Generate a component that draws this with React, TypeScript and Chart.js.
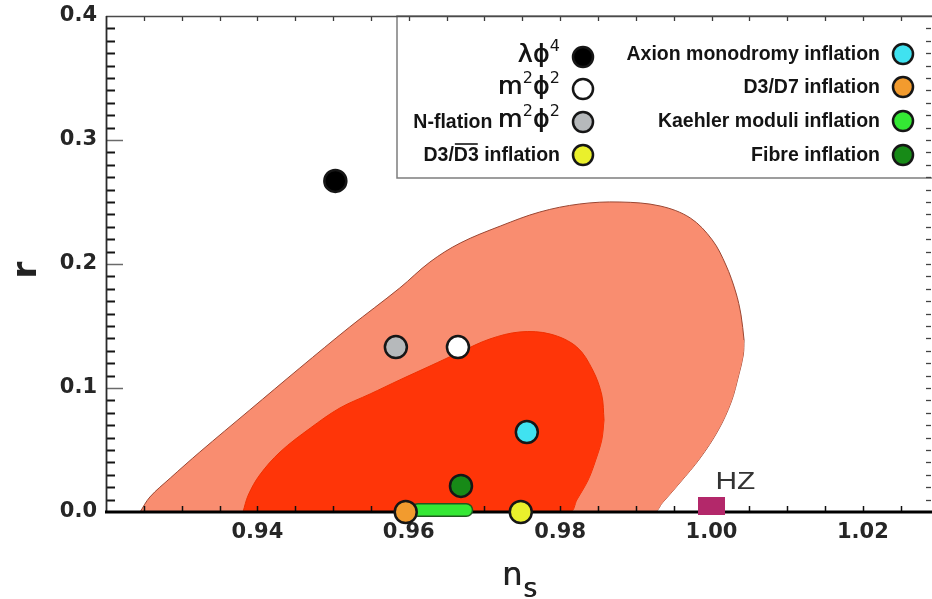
import React, { useEffect, useRef } from 'react';
import { Chart, registerables } from 'chart.js';
Chart.register(...registerables);

// ---- axes ----
const X_MIN = 0.92;
const X_MAX = 1.029;
const Y_MIN = 0;
const Y_MAX = 0.4;
const xTickValues = [0.94, 0.96, 0.98, 1.0, 1.02];
const yTickValues = [0.0, 0.1, 0.2, 0.3, 0.4];
const xTitle = 'n';
const xTitleSub = 's';
const yTitle = 'r';

// ---- 95% CL region (upper / lower branches) ----
const outerUpperNs = [0.9245, 0.9258, 0.9285, 0.9324, 0.939, 0.9456, 0.9522, 0.9588, 0.9628, 0.9668, 0.9721, 0.9773, 0.9826, 0.9879, 0.9932, 0.9972, 1.0001, 1.0019, 1.0032, 1.0039, 1.0043];
const outerUpperR = [0, 0.0121, 0.0274, 0.0484, 0.0823, 0.1161, 0.1492, 0.1806, 0.2016, 0.2169, 0.2306, 0.2419, 0.2484, 0.25, 0.2468, 0.2371, 0.2194, 0.1992, 0.1774, 0.1589, 0.1387];
const outerLowerNs = [0.9245, 0.96, 0.9924, 0.9935, 0.9958, 0.9985, 1.0009, 1.0026, 1.0036, 1.0042, 1.0043];
const outerLowerR = [0, 0, 0, 0.0073, 0.0234, 0.0435, 0.0661, 0.0887, 0.1105, 0.1266, 0.1387];

// ---- 68% CL region ----
const innerUpperNs = [0.9381, 0.9388, 0.9403, 0.943, 0.947, 0.9509, 0.9549, 0.9588, 0.9628, 0.9668, 0.9707, 0.9747, 0.9787, 0.9822, 0.9843, 0.9855, 0.9858];
const innerUpperR = [0, 0.0137, 0.0298, 0.0484, 0.0677, 0.0839, 0.0952, 0.1065, 0.1177, 0.129, 0.1395, 0.1452, 0.1435, 0.1331, 0.1145, 0.0944, 0.0742];
const innerLowerNs = [0.9381, 0.96, 0.9813, 0.9822, 0.9837, 0.9847, 0.9855, 0.9858];
const innerLowerR = [0, 0, 0, 0.0097, 0.0258, 0.0419, 0.0581, 0.0742];

// ---- inflation models ----
const modelNames = ['λϕ⁴', 'm²ϕ²', 'N-flation m²ϕ²', 'D3/D̅3̅ inflation', 'Axion monodromy inflation', 'D3/D7 inflation', 'Kaehler moduli inflation', 'Fibre inflation'];
const modelNs: (number | null)[] = [0.9503, 0.9665, 0.9583, 0.9748, 0.9756, 0.9596, null, 0.9669];
const modelR: (number | null)[] = [0.267, 0.133, 0.133, 0.0, 0.0645, 0.0, null, 0.021];
const modelColors = ['#000000', '#ffffff', '#b6b9bb', '#eaf02c', '#40e2f0', '#f29b2e', '#34e834', '#178a17'];
const kaehlerNs = [0.9612, 0.9676];
const kaehlerR = [0.0016, 0.0016];

// ---- Harrison-Zeldovich ----
const hzLabel = 'HZ';
const hzNs = 1.0;
const hzR = 0.0048;
const hzColor = '#b3286a';

const OUTER_FILL = '#f98d70';
const INNER_FILL = '#ff3508';

const SUP: Record<string, string> = { '²': '2', '⁴': '4' };

type Piece = { text: string; kind: 'text' | 'math' | 'sup' | 'space'; over?: boolean };

function labelPieces(label: string): Piece[] {
  const pieces: Piece[] = [];
  label.split(' ').forEach((word, wi) => {
    if (wi > 0) pieces.push({ text: ' ', kind: 'space' });
    if (word.includes('ϕ')) {
      for (const ch of Array.from(word)) {
        pieces.push(SUP[ch] ? { text: SUP[ch], kind: 'sup' } : { text: ch, kind: 'math' });
      }
    } else {
      const chars = Array.from(word);
      for (let i = 0; i < chars.length; i++) {
        const ch = chars[i];
        if (ch === '\u0305') continue;
        const over = chars[i + 1] === '\u0305';
        const last = pieces[pieces.length - 1];
        if (last && last.kind === 'text' && !!last.over === over) last.text += ch;
        else pieces.push({ text: ch, kind: 'text', over });
      }
    }
  });
  return pieces;
}

const FONT_TEXT = 'bold 19.5px "Liberation Sans"';
const FONT_MATH = '25px "DejaVu Sans"';
const FONT_SUP = '16px "DejaVu Sans"';

function pieceFont(p: Piece) {
  if (p.kind === 'math') return FONT_MATH;
  if (p.kind === 'sup') return FONT_SUP;
  return FONT_TEXT;
}

function drawLabel(ctx: CanvasRenderingContext2D, label: string, xRight: number, yMid: number) {
  const pieces = labelPieces(label);
  const widths = pieces.map((p) => {
    ctx.font = pieceFont(p);
    return ctx.measureText(p.text).width + (p.kind === 'math' ? 0.5 : 0);
  });
  const total = widths.reduce((a, b) => a + b, 0);
  let x = xRight - total;
  const base = yMid + 6;
  ctx.fillStyle = '#141414';
  ctx.textBaseline = 'alphabetic';
  ctx.textAlign = 'left';
  pieces.forEach((p, i) => {
    ctx.font = pieceFont(p);
    const yb = p.kind === 'sup' ? base - 12 : p.kind === 'math' ? base - 1 : base;
    ctx.fillText(p.text, x, yb);
    if (p.kind === 'math') ctx.fillText(p.text, x + 0.6, yb);
    if (p.over) {
      ctx.save();
      ctx.strokeStyle = '#141414';
      ctx.lineWidth = 1.6;
      ctx.beginPath();
      ctx.moveTo(x + 1, base - 17);
      ctx.lineTo(x + widths[i] - 1, base - 17);
      ctx.stroke();
      ctx.restore();
    }
    x += widths[i];
  });
}

function drawCircle(ctx: CanvasRenderingContext2D, x: number, y: number, r: number, fill: string) {
  ctx.beginPath();
  ctx.arc(x, y, r, 0, Math.PI * 2);
  ctx.fillStyle = fill;
  ctx.fill();
  ctx.lineWidth = 2.5;
  ctx.strokeStyle = '#161616';
  ctx.stroke();
}

const LEGEND_LEFT = 397;
const LEGEND_BOTTOM = 178;

const framePlugin = {
  id: 'frame',
  afterDatasetDraw(chart: any, args: any) {
    const ds = chart.data.datasets[args.index];
    if (ds.role !== 'innerTop') return;
    const { ctx, chartArea } = chart;
    const { left, right, top, bottom } = chartArea;
    const xs = chart.scales.x;
    const ys = chart.scales.y;
    ctx.save();
    // legend box
    ctx.fillStyle = '#ffffff';
    ctx.fillRect(LEGEND_LEFT, top, right - LEGEND_LEFT + 2, LEGEND_BOTTOM - top);
    ctx.strokeStyle = '#7d7d7d';
    ctx.lineWidth = 1.5;
    ctx.strokeRect(LEGEND_LEFT, top, right - LEGEND_LEFT + 4, LEGEND_BOTTOM - top);
    // top & bottom minor ticks
    for (let i = 1; ; i++) {
      const v = X_MIN + i * 0.005;
      if (v >= X_MAX) break;
      const px = Math.round(xs.getPixelForValue(v)) + 0.5;
      ctx.strokeStyle = '#3a3a3a';
      ctx.lineWidth = 1.3;
      ctx.beginPath();
      ctx.moveTo(px, top);
      ctx.lineTo(px, top + 5);
      ctx.stroke();
      ctx.strokeStyle = '#111';
      ctx.lineWidth = 1.5;
      ctx.beginPath();
      ctx.moveTo(px, bottom);
      ctx.lineTo(px, bottom - 6);
      ctx.stroke();
    }
    // left & right ticks
    for (let j = 1; j < 40; j++) {
      const v = j * 0.01;
      const py = Math.round(ys.getPixelForValue(v)) + 0.5;
      const major = j % 10 === 0;
      ctx.strokeStyle = major ? '#6a6a6a' : '#151515';
      ctx.lineWidth = major ? 1.5 : 2;
      ctx.beginPath();
      ctx.moveTo(left, py);
      ctx.lineTo(left + (major ? 17 : 9), py);
      ctx.stroke();
      ctx.strokeStyle = '#444';
      ctx.lineWidth = 1.3;
      ctx.beginPath();
      ctx.moveTo(right, py);
      ctx.lineTo(right - 5, py);
      ctx.stroke();
    }
    // frame lines
    ctx.strokeStyle = '#4a4a4a';
    ctx.lineWidth = 1.4;
    ctx.beginPath();
    ctx.moveTo(left, top + 0.5);
    ctx.lineTo(right + 2, top + 0.5);
    ctx.stroke();
    ctx.strokeStyle = '#2a2a2a';
    ctx.lineWidth = 1.8;
    ctx.beginPath();
    ctx.moveTo(left + 0.5, top);
    ctx.lineTo(left + 0.5, bottom);
    ctx.stroke();
    ctx.strokeStyle = '#000';
    ctx.lineWidth = 3.2;
    ctx.beginPath();
    ctx.moveTo(left - 1, bottom);
    ctx.lineTo(right + 2, bottom);
    ctx.stroke();
    ctx.restore();
  },
  afterDraw(chart: any) {
    const { ctx } = chart;
    const xs = chart.scales.x;
    const ys = chart.scales.y;
    ctx.save();
    // legend entries
    const leftRows = [57, 89, 122, 155];
    const rightRows = [54, 87, 121, 155];
    modelNames.forEach((name, i) => {
      const col = i < 4 ? 0 : 1;
      const row = i % 4;
      const cy = col === 0 ? leftRows[row] : rightRows[row];
      const cx = col === 0 ? 583 : 903;
      drawLabel(ctx, name, cx - 23, cy);
      drawCircle(ctx, cx, cy, 10, modelColors[i]);
    });
    // HZ label
    const hx = xs.getPixelForValue(hzNs);
    const hy = ys.getPixelForValue(hzR);
    ctx.save();
    ctx.translate(hx + 4, hy - 17);
    ctx.scale(1.3, 1);
    ctx.font = '23px "Liberation Sans"';
    ctx.fillStyle = '#333';
    ctx.textAlign = 'left';
    ctx.textBaseline = 'alphabetic';
    ctx.fillText(hzLabel, 0, 0);
    ctx.restore();
    // y title (rotated)
    ctx.save();
    ctx.translate(36, 270);
    ctx.rotate(-Math.PI / 2);
    ctx.font = 'bold 34px "DejaVu Sans"';
    ctx.fillStyle = '#222';
    ctx.textAlign = 'center';
    ctx.textBaseline = 'alphabetic';
    ctx.fillText(yTitle, 0, 0);
    ctx.restore();
    // x title n_s
    ctx.fillStyle = '#222';
    ctx.textAlign = 'left';
    ctx.textBaseline = 'alphabetic';
    ctx.font = '32px "DejaVu Sans"';
    ctx.fillText(xTitle, 502, 585);
    ctx.fillText(xTitle, 502.6, 585);
    const nw = ctx.measureText(xTitle).width;
    ctx.font = '26px "DejaVu Sans"';
    ctx.fillText(xTitleSub, 502 + nw + 1, 597);
    ctx.fillText(xTitleSub, 502.6 + nw + 1, 597);
    ctx.restore();
  },
};

function pts(xsArr: number[], ysArr: number[]) {
  return xsArr.map((x, i) => ({ x, y: ysArr[i] }));
}

function zeroPadding(s: any) {
  s.paddingTop = 0;
  s.paddingBottom = 0;
  s.paddingLeft = 0;
  s.paddingRight = 0;
}

export default function App() {
  const ref = useRef<HTMLCanvasElement | null>(null);
  useEffect(() => {
    const canvas = ref.current;
    if (!canvas) return;

    const hzCanvas = document.createElement('canvas');
    hzCanvas.width = 27;
    hzCanvas.height = 18;
    const hctx = hzCanvas.getContext('2d')!;
    hctx.fillStyle = hzColor;
    hctx.fillRect(0, 0, 27, 18);

    const datasets: any[] = [];
    modelNames.forEach((name, i) => {
      const nx = modelNs[i];
      const ry = modelR[i];
      if (nx === null || ry === null) return;
      datasets.push({
        label: name,
        data: [{ x: nx, y: ry }],
        showLine: false,
        pointRadius: 11,
        pointBorderWidth: 2.5,
        pointBackgroundColor: modelColors[i],
        pointBorderColor: '#161616',
        order: 0,
        clip: false,
      });
    });
    datasets.push({
      label: hzLabel,
      data: [{ x: hzNs, y: hzR }],
      showLine: false,
      pointStyle: hzCanvas,
      pointRadius: 10,
      order: 0,
      clip: false,
    });
    datasets.push({
      label: modelNames[6],
      data: pts(kaehlerNs, kaehlerR),
      borderColor: modelColors[6],
      borderWidth: 11,
      borderCapStyle: 'round',
      pointRadius: 0,
      fill: false,
      order: 0.5,
      clip: false,
    });
    datasets.push({
      label: modelNames[6] + ' edge',
      data: pts(kaehlerNs, kaehlerR),
      borderColor: '#1f5a1f',
      borderWidth: 14,
      borderCapStyle: 'round',
      pointRadius: 0,
      fill: false,
      order: 0.6,
      clip: false,
    });
    datasets.push({
      label: '68% CL',
      role: 'innerTop',
      data: pts(innerUpperNs, innerUpperR),
      fill: '+1',
      backgroundColor: INNER_FILL,
      borderColor: '#f03000',
      borderWidth: 1,
      pointRadius: 0,
      tension: 0.35,
      order: 1,
    });
    datasets.push({
      label: '68% CL lower',
      data: pts(innerLowerNs, innerLowerR),
      fill: false,
      borderColor: '#f03000',
      borderWidth: 1,
      pointRadius: 0,
      tension: 0.35,
      order: 1,
    });
    datasets.push({
      label: '95% CL',
      data: pts(outerUpperNs, outerUpperR),
      fill: '+1',
      backgroundColor: OUTER_FILL,
      borderColor: '#9a4632',
      borderWidth: 1,
      pointRadius: 0,
      tension: 0.35,
      order: 2,
    });
    datasets.push({
      label: '95% CL lower',
      data: pts(outerLowerNs, outerLowerR),
      fill: false,
      borderColor: '#9a4632',
      borderWidth: 1,
      pointRadius: 0,
      tension: 0.35,
      order: 2,
    });

    const tickFont = { family: '"DejaVu Sans"', weight: 'bold' as const, size: 21 };

    const chart = new Chart(canvas, {
      type: 'line',
      data: { datasets },
      options: {
        animation: false,
        responsive: false,
        maintainAspectRatio: false,
        events: [],
        layout: { autoPadding: false, padding: { top: 16, right: 1, left: 0, bottom: 0 } },
        plugins: {
          legend: { display: false },
          tooltip: { enabled: false },
        },
        scales: {
          x: {
            type: 'linear',
            min: X_MIN,
            max: X_MAX,
            grid: { display: false, drawTicks: false },
            border: { display: false },
            afterBuildTicks: (s: any) => {
              s.ticks = xTickValues.map((v) => ({ value: v }));
            },
            afterFit: (s: any) => {
              s.height = 87;
              zeroPadding(s);
            },
            ticks: {
              font: tickFont,
              color: '#262626',
              padding: 8,
              maxRotation: 0,
              autoSkip: false,
              callback: (v: any) => Number(v).toFixed(2),
            },
          },
          y: {
            type: 'linear',
            min: Y_MIN,
            max: Y_MAX,
            grid: { display: false, drawTicks: false },
            border: { display: false },
            afterBuildTicks: (s: any) => {
              s.ticks = yTickValues.map((v) => ({ value: v }));
            },
            afterFit: (s: any) => {
              s.width = 106;
              zeroPadding(s);
            },
            ticks: {
              font: tickFont,
              color: '#262626',
              padding: 9,
              autoSkip: false,
              callback: (v: any) => Number(v).toFixed(1),
            },
          },
        },
      } as any,
      plugins: [framePlugin as any],
    });
    return () => chart.destroy();
  }, []);

  return (
    <div style={{ position: 'fixed', left: 0, top: 0, width: 932, height: 599, background: '#fff', overflow: 'hidden' }}>
      <canvas ref={ref} width={932} height={599} style={{ display: 'block' }} />
    </div>
  );
}
